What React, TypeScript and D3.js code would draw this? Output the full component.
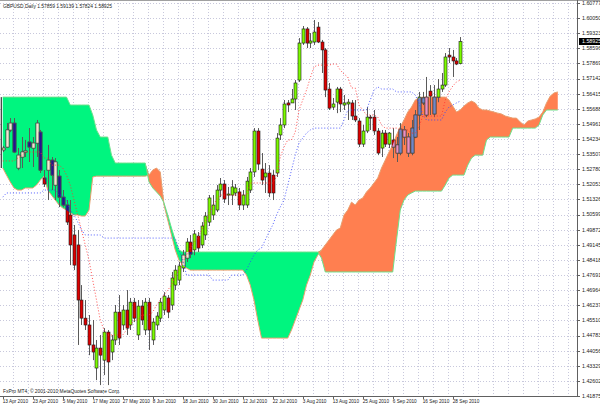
import React from 'react';
import * as d3 from 'd3';

const title = 'GBPUSD,Daily  1.57859 1.59139 1.57824 1.58925';
const copyright = 'FxPro MT4, \u00a9 2001-2010 MetaQuotes Software Corp.';
const lastPrice = 1.58925;

const dateLabels = ['13 Apr 2010','23 Apr 2010','5 May 2010','17 May 2010','27 May 2010','8 Jun 2010','18 Jun 2010','30 Jun 2010','12 Jul 2010','22 Jul 2010','3 Aug 2010','13 Aug 2010','25 Aug 2010','6 Sep 2010','16 Sep 2010','28 Sep 2010'];
const dateBars = [0,8,16,24,32,40,48,56,64,72,80,88,96,104,112,120];

const priceTicks = [1.41875,1.42602,1.43329,1.44056,1.44783,1.45510,1.46237,1.46964,1.47691,1.48418,1.49145,1.49872,1.50599,1.51326,1.52053,1.52780,1.53507,1.54234,1.54961,1.55688,1.56415,1.57142,1.57869,1.58596,1.59323,1.60050,1.60777];

const open = [1.5371,1.5385,1.5467,1.5500,1.5284,1.5337,1.5361,1.5409,1.5380,1.5404,
1.5457,1.5236,1.5274,1.5322,1.5202,1.5245,1.5144,1.5106,1.5058,1.4962,
1.4914,1.4649,1.4562,1.4529,1.4433,1.4322,1.4418,1.4360,1.4495,1.4399,
1.4457,1.4591,1.4529,1.4601,1.4529,1.4639,1.4481,1.4620,1.4505,1.4639,
1.4457,1.4529,1.4562,1.4601,1.4659,1.4625,1.4721,1.4745,1.4803,1.4851,
1.4928,1.4890,1.4957,1.4914,1.4962,1.5024,1.5058,1.5082,1.5178,1.5207,
1.5154,1.5154,1.5164,1.5169,1.5106,1.5106,1.5178,1.5265,1.5462,1.5279,
1.5241,1.5260,1.5250,1.5260,1.5443,1.5491,1.5597,1.5597,1.5616,1.5707,
1.5885,1.5953,1.5885,1.5890,1.5962,1.5890,1.5852,1.5664,1.5577,1.5601,
1.5664,1.5587,1.5592,1.5597,1.5534,1.5510,1.5399,1.5462,1.5529,1.5529,
1.5462,1.5380,1.5452,1.5399,1.5419,1.5395,1.5356,1.5467,1.5433,1.5356,
1.5433,1.5539,1.5597,1.5625,1.5654,1.5544,1.5625,1.5664,1.5683,1.5827,
1.5818,1.5799,1.57859];
const high = [1.5390,1.5500,1.5524,1.5524,1.5380,1.5433,1.5419,1.5476,1.5433,1.5515,
1.5467,1.5274,1.5395,1.5337,1.5332,1.5274,1.5178,1.5130,1.5130,1.5010,
1.4986,1.4721,1.4649,1.4577,1.4553,1.4457,1.4481,1.4514,1.4505,1.4481,
1.4625,1.4673,1.4625,1.4697,1.4659,1.4659,1.4649,1.4649,1.4659,1.4659,
1.4562,1.4591,1.4659,1.4687,1.4673,1.4784,1.4817,1.4832,1.4890,1.4947,
1.4962,1.4986,1.4976,1.5024,1.5072,1.5154,1.5154,1.5202,1.5236,1.5226,
1.5193,1.5226,1.5207,1.5188,1.5178,1.5241,1.5284,1.5476,1.5476,1.5356,
1.5308,1.5298,1.5274,1.5452,1.5524,1.5611,1.5611,1.5664,1.5707,1.5909,
1.5967,1.5962,1.5933,1.5996,1.5986,1.5900,1.5861,1.5693,1.5621,1.5674,
1.5674,1.5635,1.5616,1.5611,1.5611,1.5524,1.5491,1.5577,1.5539,1.5563,
1.5476,1.5467,1.5467,1.5457,1.5476,1.5433,1.5500,1.5486,1.5452,1.5515,
1.5563,1.5650,1.5650,1.5722,1.5683,1.5683,1.5712,1.5741,1.5837,1.5861,
1.5852,1.5813,1.59139];
const low = [1.5361,1.5380,1.5457,1.5356,1.5274,1.5284,1.5337,1.5313,1.5289,1.5337,
1.5260,1.5193,1.5130,1.5178,1.5130,1.5096,1.5096,1.5010,1.4817,1.4793,
1.4433,1.4529,1.4505,1.4384,1.4360,1.4264,1.4240,1.4288,1.4240,1.4360,
1.4433,1.4433,1.4505,1.4481,1.4505,1.4543,1.4457,1.4529,1.4481,1.4409,
1.4433,1.4505,1.4543,1.4577,1.4562,1.4601,1.4697,1.4721,1.4784,1.4832,
1.4851,1.4865,1.4880,1.4899,1.4938,1.5005,1.5034,1.5072,1.5144,1.5116,
1.5106,1.5106,1.5149,1.5082,1.5082,1.5092,1.5164,1.5241,1.5274,1.5202,
1.5164,1.5144,1.5130,1.5241,1.5419,1.5476,1.5553,1.5597,1.5563,1.5698,
1.5876,1.5861,1.5861,1.5876,1.5885,1.5741,1.5625,1.5563,1.5563,1.5548,
1.5553,1.5563,1.5515,1.5515,1.5505,1.5385,1.5385,1.5452,1.5467,1.5443,
1.5346,1.5337,1.5385,1.5380,1.5332,1.5313,1.5346,1.5395,1.5337,1.5346,
1.5428,1.5467,1.5587,1.5529,1.5539,1.5529,1.5601,1.5650,1.5674,1.5789,
1.5722,1.5779,1.57824];
const close = [1.5380,1.5467,1.5500,1.5361,1.5346,1.5361,1.5366,1.5385,1.5404,1.5500,
1.5274,1.5207,1.5322,1.5250,1.5313,1.5144,1.5106,1.5024,1.4914,1.4817,
1.4649,1.4562,1.4529,1.4433,1.4399,1.4418,1.4384,1.4495,1.4351,1.4457,
1.4591,1.4466,1.4601,1.4514,1.4639,1.4562,1.4620,1.4553,1.4639,1.4505,
1.4543,1.4572,1.4639,1.4668,1.4591,1.4755,1.4793,1.4813,1.4865,1.4928,
1.4870,1.4967,1.4899,1.5005,1.5053,1.5140,1.5106,1.5178,1.5207,1.5135,
1.5159,1.5193,1.5188,1.5106,1.5154,1.5221,1.5265,1.5462,1.5303,1.5226,
1.5260,1.5164,1.5164,1.5428,1.5491,1.5592,1.5587,1.5616,1.5693,1.5885,
1.5953,1.5885,1.5895,1.5938,1.5890,1.5852,1.5659,1.5572,1.5592,1.5664,
1.5592,1.5597,1.5601,1.5534,1.5515,1.5399,1.5462,1.5529,1.5524,1.5462,
1.5356,1.5452,1.5399,1.5452,1.5385,1.5356,1.5471,1.5433,1.5356,1.5476,
1.5539,1.5625,1.5621,1.5539,1.5630,1.5625,1.5664,1.5683,1.5818,1.5818,
1.5799,1.5784,1.58925];

const tenkan = [1.5318,1.5318,1.5318,1.5318,1.5332,1.5342,1.5361,1.5361,1.5361,1.5361,
1.5361,1.5332,1.5332,1.5298,1.5298,1.5298,1.5284,1.5250,1.5202,1.5130,
1.5058,1.4986,1.4914,1.4841,1.4745,1.4649,1.4553,1.4505,1.4481,1.4481,
1.4481,1.4481,1.4481,1.4505,1.4529,1.4553,1.4553,1.4577,1.4577,1.4577,
1.4591,1.4625,1.4649,1.4673,1.4697,1.4721,1.4769,1.4793,1.4832,1.4865,
1.4899,1.4928,1.4947,1.4986,1.5024,1.5058,1.5106,1.5130,1.5154,1.5154,
1.5154,1.5154,1.5154,1.5154,1.5154,1.5154,1.5212,1.5212,1.5212,1.5212,
1.5212,1.5212,1.5212,1.5241,1.5337,1.5385,1.5419,1.5419,1.5457,1.5563,
1.5611,1.5659,1.5717,1.5770,1.5779,1.5779,1.5779,1.5779,1.5784,1.5784,
1.5755,1.5736,1.5722,1.5669,1.5669,1.5587,1.5563,1.5539,1.5539,1.5539,
1.5529,1.5491,1.5476,1.5476,1.5476,1.5476,1.5467,1.5467,1.5467,1.5452,
1.5452,1.5481,1.5534,1.5534,1.5534,1.5534,1.5534,1.5534,1.5611,1.5650,
1.5678,1.5698,1.5707];
const kijun = [1.5144,1.5164,1.5164,1.5164,1.5164,1.5164,1.5164,1.5164,1.5164,1.5164,
1.5164,1.5178,1.5178,1.5178,1.5178,1.5154,1.5154,1.5130,1.5082,1.5058,
1.5024,1.4986,1.4962,1.4962,1.4962,1.4962,1.4962,1.4947,1.4947,1.4947,
1.4947,1.4947,1.4947,1.4947,1.4947,1.4947,1.4947,1.4947,1.4947,1.4947,
1.4947,1.4947,1.4947,1.4947,1.4947,1.4947,1.4947,1.4890,1.4841,1.4769,
1.4769,1.4769,1.4769,1.4769,1.4769,1.4769,1.4745,1.4745,1.4745,1.4745,
1.4745,1.4769,1.4769,1.4769,1.4769,1.4793,1.4832,1.4865,1.4890,1.4899,
1.4938,1.4976,1.5010,1.5058,1.5096,1.5130,1.5202,1.5274,1.5346,1.5404,
1.5428,1.5452,1.5467,1.5476,1.5476,1.5476,1.5476,1.5476,1.5476,1.5476,
1.5476,1.5515,1.5563,1.5563,1.5563,1.5563,1.5563,1.5563,1.5611,1.5659,
1.5674,1.5664,1.5664,1.5664,1.5664,1.5650,1.5650,1.5650,1.5650,1.5650,
1.5635,1.5597,1.5539,1.5515,1.5515,1.5515,1.5515,1.5515,1.5553,1.5577,
1.5587,1.5597,1.5606];

const spanA = [1.5284,1.5250,1.5217,1.5188,1.5178,1.5178,1.5188,1.5188,1.5188,1.5202,
1.5226,1.5245,1.5178,1.5154,1.5130,1.5106,1.5092,1.5082,1.5068,1.5058,
1.5058,1.5053,1.5053,1.5082,1.5241,1.5245,1.5245,1.5245,1.5245,1.5245,
1.5245,1.5245,1.5245,1.5245,1.5245,1.5245,1.5245,1.5245,1.5245,1.5250,
1.5274,1.5284,1.5265,1.5106,1.5034,1.4962,1.4890,1.4841,1.4817,1.4803,
1.4793,1.4793,1.4793,1.4793,1.4793,1.4793,1.4793,1.4793,1.4793,1.4793,
1.4793,1.4793,1.4793,1.4793,1.4793,1.4769,1.4721,1.4649,1.4553,1.4466,
1.4466,1.4466,1.4466,1.4466,1.4466,1.4466,1.4466,1.4505,1.4553,1.4601,
1.4649,1.4721,1.4769,1.4832,1.4865,1.4890,1.4914,1.4938,1.4962,1.4986,
1.4995,1.5058,1.5082,1.5120,1.5106,1.5130,1.5140,1.5169,1.5188,1.5212,
1.5236,1.5284,1.5322,1.5361,1.5395,1.5443,1.5481,1.5515,1.5553,1.5577,
1.5611,1.5621,1.5625,1.5625,1.5625,1.5625,1.5625,1.5625,1.5625,1.5611,
1.5582,1.5553,1.5563,1.5582,1.5597,1.5606,1.5597,1.5572,1.5563,1.5563,
1.5558,1.5553,1.5548,1.5544,1.5534,1.5529,1.5524,1.5524,1.5505,1.5491,
1.5510,1.5515,1.5520,1.5529,1.5553,1.5597,1.5630,1.5645,1.5650];
const spanB = [1.5625,1.5625,1.5625,1.5625,1.5625,1.5625,1.5625,1.5625,1.5625,1.5625,
1.5625,1.5625,1.5625,1.5625,1.5625,1.5625,1.5625,1.5625,1.5587,1.5587,
1.5587,1.5587,1.5587,1.5587,1.5539,1.5467,1.5433,1.5433,1.5433,1.5346,
1.5308,1.5308,1.5308,1.5308,1.5308,1.5308,1.5308,1.5308,1.5308,1.5217,
1.5188,1.5169,1.5149,1.5116,1.5058,1.4995,1.4938,1.4890,1.4880,1.4880,
1.4880,1.4880,1.4880,1.4880,1.4880,1.4880,1.4880,1.4880,1.4880,1.4880,
1.4880,1.4880,1.4880,1.4880,1.4880,1.4880,1.4880,1.4880,1.4880,1.4880,
1.4880,1.4880,1.4880,1.4880,1.4880,1.4880,1.4880,1.4880,1.4880,1.4880,
1.4880,1.4880,1.4880,1.4880,1.4880,1.4851,1.4784,1.4784,1.4784,1.4784,
1.4784,1.4784,1.4784,1.4784,1.4784,1.4784,1.4784,1.4784,1.4784,1.4784,
1.4784,1.4784,1.4784,1.4784,1.4784,1.4938,1.5082,1.5130,1.5154,1.5164,
1.5173,1.5173,1.5173,1.5173,1.5173,1.5173,1.5173,1.5173,1.5202,1.5236,
1.5250,1.5250,1.5250,1.5250,1.5298,1.5332,1.5346,1.5346,1.5346,1.5419,
1.5433,1.5433,1.5433,1.5433,1.5433,1.5433,1.5476,1.5476,1.5476,1.5476,
1.5476,1.5476,1.5476,1.5491,1.5539,1.5563,1.5563,1.5563,1.5563];

const W = 600;
const H = 404;
const FONT = '"Liberation Sans", Arial, sans-serif';

type Pal = { bull: string; bear: string; edge: string };
const normalPal: Pal = { bull: '#7CFC00', bear: '#DD0000', edge: '#1a1a1a' };
const greenPal: Pal = { bull: '#F2E6D0', bear: '#26128E', edge: '#555' };
const orangePal: Pal = { bull: '#6F88C8', bear: '#EC8EC0', edge: '#444' };

export default function App() {
  const nCloud = spanA.length;
  const x = d3.scaleLinear().domain([0, nCloud - 1]).range([2.75, 2.75 + 3.75 * (nCloud - 1)]);
  const y = d3.scaleLinear().domain([1.41875, 1.60777]).range([396, 3]);
  const plotRight = 577;
  const plotBottom = 396;

  const cIdx = d3.range(nCloud);
  const greenArea = d3.area<number>()
    .x(i => x(i))
    .y0(i => y(spanA[i]))
    .y1(i => y(Math.max(spanA[i], spanB[i])))(cIdx) || '';
  const orangeArea = d3.area<number>()
    .x(i => x(i))
    .y0(i => y(spanB[i]))
    .y1(i => y(Math.max(spanA[i], spanB[i])))(cIdx) || '';
  const spanALine = d3.line<number>().x(i => x(i)).y(i => y(spanA[i]))(cIdx) || '';
  const spanBLine = d3.line<number>().x(i => x(i)).y(i => y(spanB[i]))(cIdx) || '';

  const bIdx = d3.range(close.length);
  const tenkanLine = d3.line<number>().x(i => x(i)).y(i => y(tenkan[i]))(bIdx) || '';
  const kijunLine = d3.line<number>().x(i => x(i)).y(i => y(kijun[i]))(bIdx) || '';

  const candles = (pal: Pal, key: string) => (
    <g key={key}>
      {bIdx.map(i => {
        const cx = Math.round(x(i)) + 0.5;
        const up = close[i] >= open[i];
        const top = y(Math.max(open[i], close[i]));
        const bot = y(Math.min(open[i], close[i]));
        return (
          <g key={i}>
            <line x1={cx} x2={cx} y1={y(high[i])} y2={y(low[i])} stroke="#5a5a5a" strokeWidth={1} />
            <rect x={cx - 1.5} y={top} width={3} height={Math.max(bot - top, 0.8)}
              fill={up ? pal.bull : pal.bear} stroke={pal.edge} strokeWidth={0.6} />
          </g>
        );
      })}
    </g>
  );

  const vGrid = d3.range(3, 154, 4);

  return (
    <svg width={W} height={H} style={{ position: 'fixed', left: 0, top: 0, background: '#fff' }}
      fontFamily={FONT}>
      <defs>
        <clipPath id="gclip"><path d={greenArea} /></clipPath>
        <clipPath id="oclip"><path d={orangeArea} /></clipPath>
        <clipPath id="plot"><rect x={0} y={0} width={plotRight} height={plotBottom} /></clipPath>
      </defs>
      <rect x={0} y={0} width={W} height={H} fill="#fff" />
      <g clipPath="url(#plot)">
        {priceTicks.map((p, k) => (
          <line key={'h' + k} x1={0} x2={plotRight} y1={Math.round(y(p)) + 0.5} y2={Math.round(y(p)) + 0.5}
            stroke="#c8c8dc" strokeWidth={1} strokeDasharray="1 2" />
        ))}
        {vGrid.map(i => (
          <line key={'v' + i} x1={Math.round(x(i)) - 0.5} x2={Math.round(x(i)) - 0.5} y1={0} y2={plotBottom}
            stroke="#c8c8dc" strokeWidth={1} strokeDasharray="1 2" />
        ))}
        <path d={greenArea} fill="#00F57F" />
        <path d={orangeArea} fill="#FF7F50" />
        <path d={spanALine} fill="none" stroke="#E8A070" strokeWidth={1} />
        <path d={spanBLine} fill="none" stroke="#6EE08A" strokeWidth={1} />
        <line x1={x(0) - 1.5} x2={x(0) - 1.5} y1={y(spanB[0])} y2={y(spanA[0])} stroke="#111" strokeWidth={1} />
        {candles(normalPal, 'n')}
        <g clipPath="url(#gclip)">{candles(greenPal, 'g')}</g>
        <g clipPath="url(#oclip)">{candles(orangePal, 'o')}</g>
        <path d={tenkanLine} fill="none" stroke="#FF3030" strokeWidth={1} strokeDasharray="1 2" opacity={0.85} />
        <path d={kijunLine} fill="none" stroke="#3040FF" strokeWidth={1} strokeDasharray="1 2" opacity={0.85} />
      </g>
      <line x1={0} x2={W} y1={0.5} y2={0.5} stroke="#a0a0a0" strokeWidth={1} />
      <line x1={plotRight + 0.5} x2={plotRight + 0.5} y1={0} y2={plotBottom} stroke="#606060" strokeWidth={1} />
      <line x1={0} x2={plotRight + 1} y1={plotBottom + 0.5} y2={plotBottom + 0.5} stroke="#606060" strokeWidth={1} />
      {priceTicks.map((p, k) => (
        <g key={'pt' + k}>
          <line x1={plotRight} x2={plotRight + 3} y1={Math.round(y(p)) + 0.5} y2={Math.round(y(p)) + 0.5} stroke="#606060" />
          <text x={plotRight + 5} y={y(p)} dy="0.35em" fontSize={5.3} fill="#222">{p.toFixed(5)}</text>
        </g>
      ))}
      <rect x={plotRight + 2} y={y(lastPrice) - 3.5} width={W - plotRight - 2} height={7} fill="#000" />
      <text x={plotRight + 5} y={y(lastPrice)} dy="0.35em" fontSize={5.3} fill="#fff">{lastPrice.toFixed(5)}</text>
      {dateBars.map((b, k) => (
        <g key={'d' + k}>
          <line x1={Math.round(x(b)) + 0.5} x2={Math.round(x(b)) + 0.5} y1={plotBottom} y2={plotBottom + 3} stroke="#606060" />
          <text x={x(b)} y={402.5} fontSize={4.7} fill="#222">{dateLabels[k]}</text>
        </g>
      ))}
      <text x={3} y={7.5} fontSize={4.9} fill="#222">{title}</text>
      <text x={3} y={393} fontSize={4.9} fill="#222">{copyright}</text>
    </svg>
  );
}
